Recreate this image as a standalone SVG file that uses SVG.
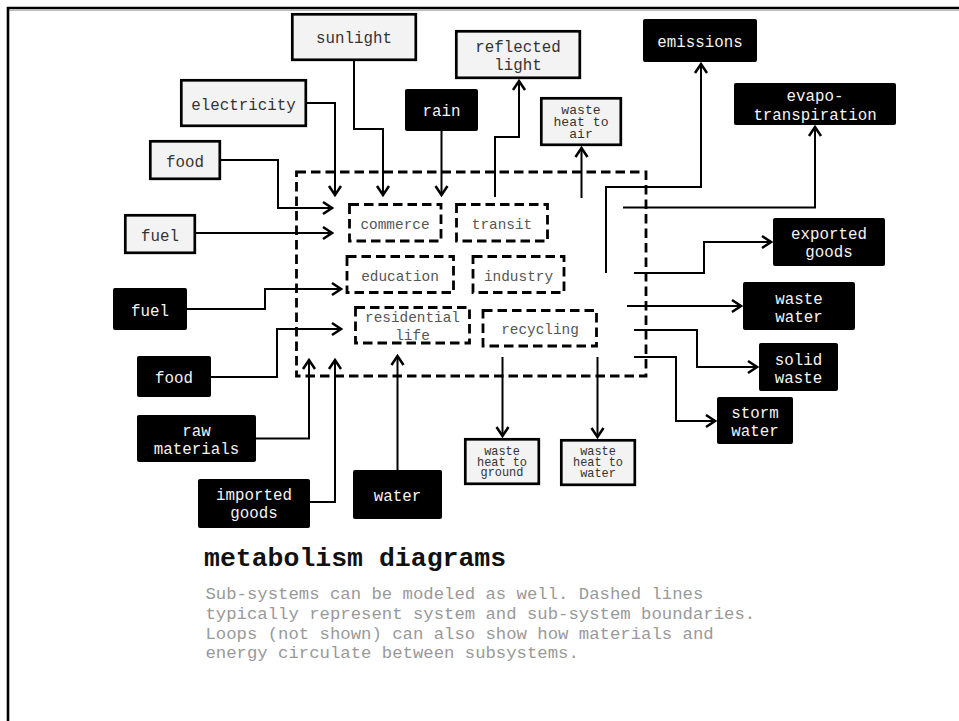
<svg xmlns="http://www.w3.org/2000/svg" width="959" height="721" viewBox="0 0 959 721">
<defs>
<marker id="arr" viewBox="-12 -8 14 16" refX="0" refY="0" markerWidth="14" markerHeight="16" markerUnits="userSpaceOnUse" orient="auto">
<path d="M-9,-6 L0,0 L-9,6" fill="none" stroke="#000" stroke-width="2.5"/>
</marker>
</defs>
<style>
text{font-family:"Liberation Mono","Courier New",monospace;text-anchor:middle}
.g rect{fill:#f3f3f3;stroke:#000;stroke-width:2.7}
.g text{fill:#333;font-size:15.8px}
.b rect{fill:#000}
.b text{fill:#f4f4f4;font-size:15.8px}
.s rect{fill:none;stroke:#000;stroke-width:2.8;stroke-dasharray:9.5 5}
.s text{fill:#555;font-size:14.4px}
.sm text{font-size:13.1px}
.xs text{font-size:11.9px}
#connectors path{fill:none;stroke:#000;stroke-width:2;marker-end:url(#arr)}
.cap{text-anchor:start}
</style>
<rect x="0" y="0" width="959" height="721" fill="#fff"/>
<g id="frame">
<line x1="9" y1="10.5" x2="959" y2="10.5" stroke="#bbb" stroke-width="1"/>
<path d="M8,721 V8 H959" fill="none" stroke="#000" stroke-width="2.6"/>
</g>

<g id="system" class="s"><rect x="296.5" y="172" width="349.5" height="204"/></g>
<g id="commerce" class="s"><rect x="349.5" y="204.5" width="91.5" height="36.5"/><text x="395" y="229">commerce</text></g>
<g id="transit" class="s"><rect x="456.5" y="204.5" width="91" height="36.5"/><text x="502" y="229">transit</text></g>
<g id="education" class="s"><rect x="347" y="256.5" width="106.5" height="36"/><text x="400" y="281">education</text></g>
<g id="industry" class="s"><rect x="473" y="256.5" width="91" height="36"/><text x="518.5" y="281">industry</text></g>
<g id="residential" class="s"><rect x="355.5" y="307.5" width="114" height="35.5"/><text x="412.5" y="322">residential</text><text x="412.5" y="340">life</text></g>
<g id="recycling" class="s"><rect x="483" y="310.5" width="113.5" height="35.5"/><text x="540" y="334">recycling</text></g>

<g id="sunlight" class="g"><rect x="292.3" y="14.3" width="123.5" height="45.5"/><text x="354" y="43">sunlight</text></g>
<g id="electricity" class="g"><rect x="181.3" y="80.3" width="124.5" height="45.5"/><text x="243.5" y="110">electricity</text></g>
<g id="food-in" class="g"><rect x="150.3" y="141.3" width="69.5" height="37.5"/><text x="185" y="166.5">food</text></g>
<g id="fuel-in" class="g"><rect x="125.3" y="215.3" width="69.5" height="37.5"/><text x="160" y="241">fuel</text></g>
<g id="reflected-light" class="g"><rect x="456.3" y="31.3" width="123.5" height="46.5"/><text x="518" y="51.5">reflected</text><text x="518" y="69.5">light</text></g>
<g id="waste-heat-air" class="g sm"><rect x="541.3" y="98.3" width="79.5" height="46.5"/><text x="581" y="113.5">waste</text><text x="581" y="125.5">heat to</text><text x="581" y="137.5">air</text></g>
<g id="waste-heat-ground" class="g xs"><rect x="465.3" y="439.3" width="73.5" height="44.5"/><text x="502" y="455">waste</text><text x="502" y="465.5">heat to</text><text x="502" y="476">ground</text></g>
<g id="waste-heat-water" class="g xs"><rect x="561.3" y="440.3" width="73.5" height="44.5"/><text x="598" y="455">waste</text><text x="598" y="466">heat to</text><text x="598" y="477">water</text></g>

<g id="rain" class="b"><rect x="405" y="89" width="73" height="42" rx="2"/><text x="441.5" y="116">rain</text></g>
<g id="fuel" class="b"><rect x="113" y="288" width="74" height="42" rx="2"/><text x="150" y="315.5">fuel</text></g>
<g id="food" class="b"><rect x="137" y="356" width="74" height="41" rx="2"/><text x="174" y="382.5">food</text></g>
<g id="raw-materials" class="b"><rect x="137" y="415" width="119" height="47" rx="2"/><text x="196.5" y="436">raw</text><text x="196.5" y="454">materials</text></g>
<g id="imported-goods" class="b"><rect x="198" y="479" width="112" height="49" rx="2"/><text x="254" y="499.5">imported</text><text x="254" y="517.5">goods</text></g>
<g id="water" class="b"><rect x="353" y="470" width="89" height="49" rx="2"/><text x="397.5" y="500.5">water</text></g>
<g id="emissions" class="b"><rect x="643" y="19" width="114" height="43" rx="2"/><text x="700" y="47">emissions</text></g>
<g id="evapotranspiration" class="b"><rect x="734" y="83" width="162" height="42" rx="2"/><text x="815" y="101">evapo-</text><text x="815" y="119.5">transpiration</text></g>
<g id="exported-goods" class="b"><rect x="773" y="218" width="112" height="48" rx="2"/><text x="829" y="239">exported</text><text x="829" y="257">goods</text></g>
<g id="waste-water" class="b"><rect x="743" y="282" width="112" height="48" rx="2"/><text x="799" y="304">waste</text><text x="799" y="322">water</text></g>
<g id="solid-waste" class="b"><rect x="759" y="343" width="79" height="48" rx="2"/><text x="798.5" y="365">solid</text><text x="798.5" y="383">waste</text></g>
<g id="storm-water" class="b"><rect x="717" y="397" width="76" height="47" rx="2"/><text x="755" y="418">storm</text><text x="755" y="436">water</text></g>

<g id="connectors">
<path d="M354,61 V129 H383 V195"/>
<path d="M307,103 H335 V195"/>
<path d="M221,160 H278 V208 H332"/>
<path d="M196,233 H332"/>
<path d="M441.5,131 V195"/>
<path d="M495,197 V137 H519 V81"/>
<path d="M581.5,198 V148"/>
<path d="M606,273 V187 H701 V64"/>
<path d="M623,207.5 H815 V127"/>
<path d="M634,273 H704 V242 H771"/>
<path d="M627,306 H741"/>
<path d="M634,330 H697 V367 H757"/>
<path d="M634,357 H676 V421 H715"/>
<path d="M502.5,357 V436"/>
<path d="M597.5,357 V437"/>
<path d="M187,309 H265 V289 H341"/>
<path d="M211,377 H277 V329 H341"/>
<path d="M256,438.5 H309 V360"/>
<path d="M310,502 H335 V360"/>
<path d="M397.5,470 V356"/>
</g>

<g id="caption">
<text class="cap" x="204" y="566" font-size="26.5" font-weight="bold" fill="#111">metabolism diagrams</text>
<text class="cap" x="205.5" y="598.5" font-size="17.3" fill="#999">Sub-systems can be modeled as well. Dashed lines</text>
<text class="cap" x="205.5" y="618.5" font-size="17.3" fill="#999">typically represent system and sub-system boundaries.</text>
<text class="cap" x="205.5" y="638.5" font-size="17.3" fill="#999">Loops (not shown) can also show how materials and</text>
<text class="cap" x="205.5" y="658" font-size="17.3" fill="#999">energy circulate between subsystems.</text>
</g>
</svg>
